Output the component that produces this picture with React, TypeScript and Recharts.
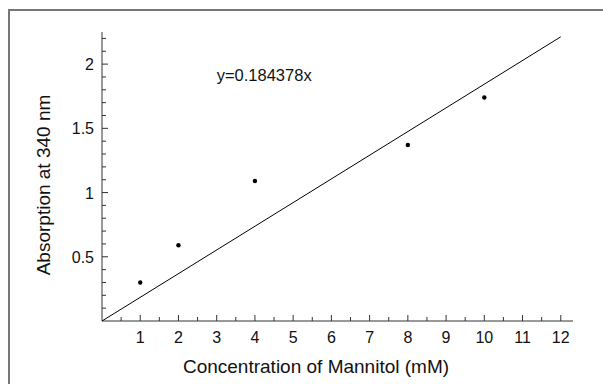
import { ScatterChart, Scatter, XAxis, YAxis, ReferenceDot } from 'recharts';

// measured points
const concentration = [1, 2, 4, 8, 10];
const absorption = [0.3, 0.59, 1.09, 1.37, 1.74];

// fitted line y = slope * x
const slope = 0.184378;
const fitX = [0, 12];
const equation = 'y=0.184378x';

const xTicks = [0.5, 1, 1.5, 2, 2.5, 3, 3.5, 4, 4.5, 5, 5.5, 6, 6.5, 7, 7.5, 8, 8.5, 9, 9.5, 10, 10.5, 11, 11.5, 12];
const yTicks = [0.1, 0.2, 0.3, 0.4, 0.5, 0.6, 0.7, 0.8, 0.9, 1, 1.1, 1.2, 1.3, 1.4, 1.5, 1.6, 1.7, 1.8, 1.9, 2, 2.1, 2.2];

const points = concentration.map((x, i) => ({ x, y: absorption[i] }));
const fitLine = fitX.map((x) => ({ x, y: slope * x }));

const FONT = '"Liberation Sans", Arial, sans-serif';
const AXIS = '#333';

const isHalf = (v: number) => Math.abs(v * 2 - Math.round(v * 2)) < 1e-6;

const XTick = (props: any) => {
  const { x, y, payload } = props;
  const major = Number.isInteger(payload.value);
  return (
    <g>
      <line x1={x} x2={x} y1={y} y2={y - (major ? 6 : 4)} stroke={AXIS} strokeWidth={1} />
      {major && (
        <text x={x} y={y + 22} textAnchor="middle" fontSize={16} fill="#111" fontFamily={FONT}>
          {payload.value}
        </text>
      )}
    </g>
  );
};

const YTick = (props: any) => {
  const { x, y, payload } = props;
  const major = isHalf(payload.value);
  return (
    <g>
      <line x1={x} x2={x + (major ? 6 : 4)} y1={y} y2={y} stroke={AXIS} strokeWidth={1} />
      {major && (
        <text x={x - 8} y={y + 6} textAnchor="end" fontSize={16} fill="#111" fontFamily={FONT}>
          {String(payload.value)}
        </text>
      )}
    </g>
  );
};

const Dot = (props: any) => <circle cx={props.cx} cy={props.cy} r={2.2} fill="#000" />;

export default function App() {
  return (
    <div style={{ position: 'absolute', left: 0, top: 0, width: 603, height: 384, background: '#fff' }}>
      <div
        style={{
          position: 'absolute',
          left: 8,
          top: 9,
          right: 0,
          bottom: 0,
          borderTop: '2px solid #777',
          borderLeft: '2px solid #777',
        }}
      />
      <ScatterChart
        width={603}
        height={384}
        margin={{ top: 32, right: 30, bottom: 13, left: 20 }}
        style={{ position: 'absolute', left: 0, top: 0, fontFamily: FONT }}
      >
        <XAxis
          type="number"
          dataKey="x"
          domain={[0, 12.32]}
          ticks={xTicks}
          interval={0}
          height={50}
          tickSize={0}
          tickMargin={0}
          tickLine={false}
          axisLine={{ stroke: AXIS, strokeWidth: 1 }}
          tick={<XTick />}
          label={{
            content: ({ viewBox }: any) => (
              <text x={316} y={viewBox.y + 52} textAnchor="middle" fontSize={19} fill="#111" fontFamily={FONT}>
                Concentration of Mannitol (mM)
              </text>
            ),
          }}
        />
        <YAxis
          type="number"
          dataKey="y"
          domain={[0, 2.25]}
          ticks={yTicks}
          interval={0}
          width={82}
          tickSize={0}
          tickMargin={0}
          tickLine={false}
          axisLine={{ stroke: AXIS, strokeWidth: 1 }}
          tick={<YTick />}
          label={{
            content: () => (
              <text
                x={50}
                y={185}
                transform="rotate(-90 50 185)"
                textAnchor="middle"
                fontSize={19}
                fill="#111"
                fontFamily={FONT}
              >
                Absorption at 340 nm
              </text>
            ),
          }}
        />
        <Scatter
          data={fitLine}
          line={{ stroke: '#000', strokeWidth: 1 }}
          shape={() => <g />}
          isAnimationActive={false}
        />
        <Scatter data={points} shape={<Dot />} isAnimationActive={false} />
        <ReferenceDot
          x={3}
          y={1.915}
          r={0}
          fill="none"
          stroke="none"
          label={{
            content: ({ viewBox }: any) => (
              <text x={viewBox.x} y={viewBox.y + 6} fontSize={16.5} fill="#111" fontFamily={FONT}>
                {equation}
              </text>
            ),
          }}
        />
      </ScatterChart>
    </div>
  );
}
